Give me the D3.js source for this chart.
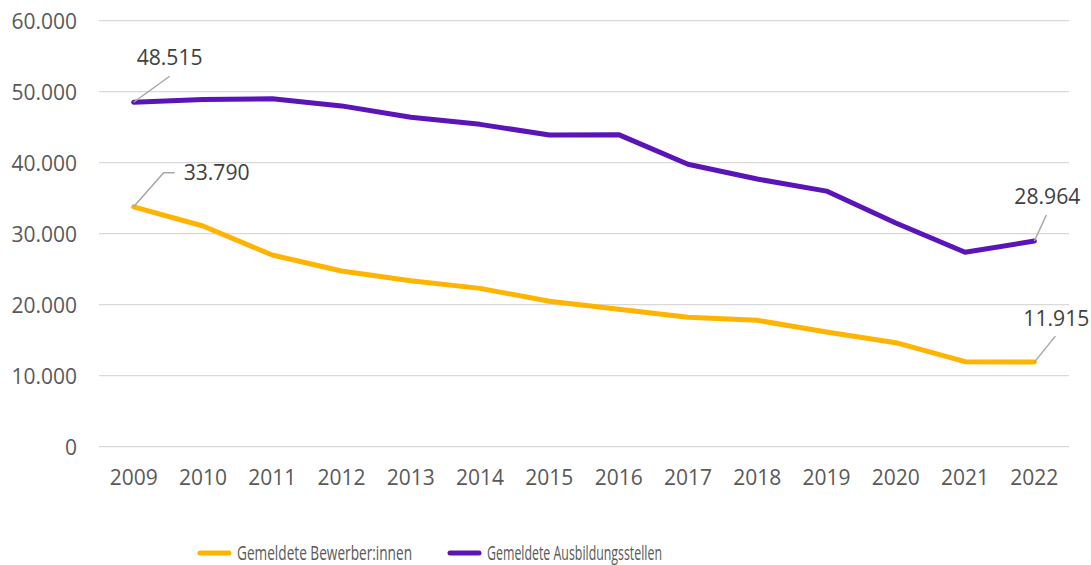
<!DOCTYPE html>
<html><head><meta charset="utf-8">
<script src="https://cdn.jsdelivr.net/npm/d3@7"></script>
<style>body{margin:0;background:#fff}svg{display:block}</style>
</head><body>
<svg id="c" width="1091" height="565"></svg>
<script>
const years = ["2009","2010","2011","2012","2013","2014","2015","2016","2017","2018","2019","2020","2021","2022"];
const bewerber = [33790,31080,27000,24750,23380,22300,20480,19350,18225,17800,16150,14650,11970,11915];
const stellen = [48515,48900,49000,48000,46400,45400,43900,43950,39780,37700,36000,31500,27380,28964];
const yTicks = [0,10000,20000,30000,40000,50000,60000];
const seriesNames = ["Gemeldete Bewerber:innen","Gemeldete Ausbildungsstellen"];
const colors = ["#FFB400","#5A14B8"];

(function(){
const svg = d3.select("#c");
const pLeft = 99, pRight = 1069, pTop = 20.7, pBottom = 446.7;
const x = d3.scaleBand().domain(years).range([pLeft,pRight]);
const y = d3.scaleLinear().domain([0,60000]).range([pBottom,pTop]);
const fmt = v => d3.format(",")(v).replace(/,/g,".");
const font = "'Open Sans', sans-serif";

svg.append("g").selectAll("line").data(yTicks).join("line")
  .attr("x1",pLeft).attr("x2",pRight)
  .attr("y1",d=>y(d)).attr("y2",d=>y(d))
  .attr("stroke","#D9D9D9").attr("stroke-width",1.3);

const yAxis = d3.axisLeft(y).tickValues(yTicks).tickFormat(fmt).tickSize(0).tickPadding(0);
const ya = svg.append("g").attr("transform","translate(77,0)").call(yAxis);
ya.select(".domain").remove();
ya.selectAll("text").attr("font-family",font).attr("font-size",21).attr("fill","#595959").attr("dy","0.35em");

const xAxis = d3.axisBottom(x).tickSize(0).tickPadding(0);
const xa = svg.append("g").attr("transform","translate(0,470)").call(xAxis);
xa.select(".domain").remove();
xa.selectAll("text").attr("font-family",font).attr("font-size",21).attr("fill","#595959").attr("dy","0.71em");

const cx = d => x(d) + x.bandwidth()/2;
const line = d3.line().x((d,i)=>cx(years[i])).y(d=>y(d));

[bewerber, stellen].forEach((s,k)=>{
  svg.append("path").datum(s).attr("d",line)
    .attr("fill","none").attr("stroke",colors[k]).attr("stroke-width",5)
    .attr("stroke-linejoin","round").attr("stroke-linecap","round");
});

const lbls = [
  {s:stellen, i:0, pts:[[36,-26]], tx:3, ty:-45},
  {s:bewerber, i:0, pts:[[30,-34],[41,-34]], tx:50, ty:-34},
  {s:stellen, i:13, pts:[[12,-26]], tx:-20, ty:-44},
  {s:bewerber, i:13, pts:[[21,-26]], tx:-11, ty:-43}
];
lbls.forEach(l=>{
  const px = cx(years[l.i]), py = y(l.s[l.i]);
  const p = d3.path(); p.moveTo(px,py);
  l.pts.forEach(q=>p.lineTo(px+q[0],py+q[1]));
  svg.append("path").attr("d",p.toString()).attr("fill","none").attr("stroke","#A6A6A6").attr("stroke-width",1.5);
  svg.append("text").attr("x",px+l.tx).attr("y",py+l.ty).attr("dy","0.35em")
    .attr("font-family",font).attr("font-size",21).attr("fill","#404040")
    .attr("textLength",66).attr("lengthAdjust","spacingAndGlyphs")
    .text(fmt(l.s[l.i]));
});

const leg = [{x:198,tx:237,w:175},{x:448,tx:487,w:175}];
leg.forEach((g,k)=>{
  svg.append("line").attr("x1",g.x+2).attr("x2",g.x+31).attr("y1",553).attr("y2",553)
    .attr("stroke",colors[k]).attr("stroke-width",5).attr("stroke-linecap","round");
  svg.append("text").attr("x",g.tx).attr("y",559.5)
    .attr("font-family",font).attr("font-size",20).attr("fill","#595959")
    .attr("textLength",g.w).attr("lengthAdjust","spacingAndGlyphs")
    .text(seriesNames[k]);
});
})();
</script>
</body></html>
